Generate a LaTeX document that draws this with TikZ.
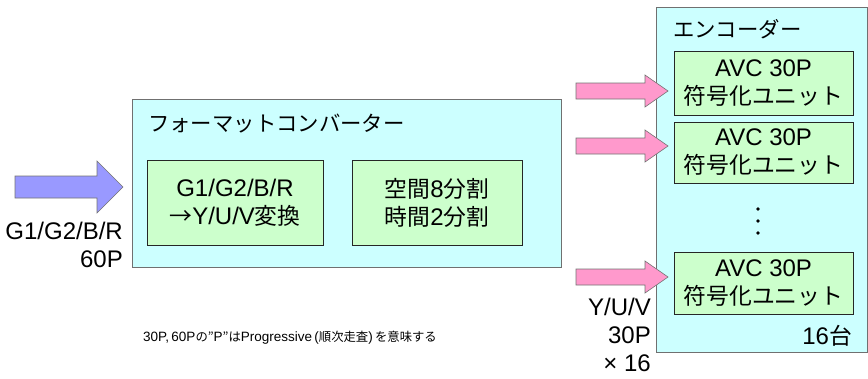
\documentclass[tikz,border=0pt]{standalone}
\usepackage{fontspec}
\setmainfont{Liberation Sans}
\newfontfamily\jp[Scale=0.95]{Noto Sans CJK JP}
\definecolor{cyanfill}{HTML}{CCFFFF}
\definecolor{greenfill}{HTML}{CCFFCC}
\definecolor{boxline}{HTML}{707070}
\definecolor{bluearrow}{HTML}{9999FF}
\definecolor{pinkarrow}{HTML}{FF99CC}
\newcommand{\jpsm}{\jp\fontsize{13}{17}\selectfont}
\begin{document}
\begin{tikzpicture}[x=1pt,y=-1pt,
  outerbox/.style={draw=boxline,fill=cyanfill,line width=1pt},
  innerbox/.style={draw=black!85,fill=greenfill,line width=1pt},
  lbl/.style={inner sep=0pt,font=\fontsize{24}{28}\selectfont},
  ttl/.style={inner sep=0pt,font=\fontsize{22.5}{28}\selectfont},
  small/.style={inner sep=0pt,font=\fontsize{13.5}{17}\selectfont},
  blockarrow/.style={draw=black!55,line width=0.6pt,line join=miter}]
\useasboundingbox (0,0) rectangle (868,378);
% converter
\draw[outerbox] (132,99) rectangle (561,267);
\node[ttl,anchor=west] (convtitle) at (148,124) {\jp フォーマットコンバーター};
\draw[innerbox] (147,160) rectangle (323,245);
\node[lbl,align=center] (conv1) at (235,203) {G1/G2/B/R\\{\jp →}Y/U/V{\jp 変換}};
\draw[innerbox] (352,160) rectangle (522,245);
\node[lbl,align=center] (conv2) at (437,203) {{\jp 空間}8{\jp 分割}\\{\jp 時間}2{\jp 分割}};
% encoder
\draw[outerbox] (656,7) rectangle (867,352);
\node[ttl,anchor=west] (enctitle) at (673,29) {\jp エンコーダー};
\foreach \n/\t/\b in {u1/51/115, u2/122/183, u3/252/314}{
  \draw[innerbox] (674,\t) rectangle (853,\b);
  \node[lbl,align=center] (\n) at (763.5,{(\t+\b)/2}) {AVC 30P\\{\jp 符号化ユニット}};
}
\foreach \yy in {209,221,233}{\fill (758,\yy) circle (1.8);}
\node[lbl,anchor=east] (count) at (852,336) {16{\jp 台}};
% input arrow
\draw[blockarrow,fill=bluearrow] (15,176) -- (97,176) -- (97,161) -- (123,187) -- (97,213) -- (97,198) -- (15,198) -- cycle;
\node[lbl,anchor=east,align=right] (inlbl) at (123,245) {G1/G2/B/R\\60P};
% output arrows
\foreach \c in {91,146,277}{
  \draw[blockarrow,fill=pinkarrow] (576,\c-8) -- (645,\c-8) -- (645,\c-16) -- (668,\c) -- (645,\c+16) -- (645,\c+8) -- (576,\c+8) -- cycle;
}
\node[lbl,anchor=east,align=right] (outlbl) at (651,335) {Y/U/V\\30P\\{×} 16};
% note
\node[small,anchor=west] (note) at (143,338) {30P,\,60P{\jpsm の”}P{\jpsm ”は}Progressive\,({\jpsm 順次走査})\,{\jpsm を意味する}};
\end{tikzpicture}
\end{document}
